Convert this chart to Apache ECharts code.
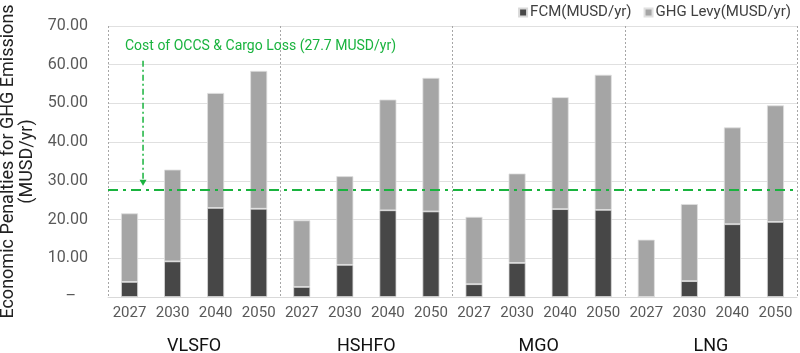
<!DOCTYPE html>
<html>
<head>
<meta charset="utf-8">
<script src="https://cdn.jsdelivr.net/npm/echarts@6/dist/echarts.min.js"></script>
<style>
html,body{margin:0;padding:0;background:#fff;}
#chart{width:800px;height:353px;}
</style>
</head>
<body>
<div id="chart"></div>
<script>
var fuels = ['VLSFO', 'HSHFO', 'MGO', 'LNG'];
var years = ['2027', '2030', '2040', '2050'];
// FCM per fuel/year (VLSFO, HSHFO, MGO, LNG)
var fcmData = [
    3.9, 9.2, 23.0, 22.8,
    2.6, 8.3, 22.4, 22.1,
    3.3, 8.8, 22.7, 22.5,
    0, 4.1, 18.8, 19.4
];
var levyData = [
    17.7, 23.7, 29.7, 35.6,
    17.2, 22.9, 28.6, 34.5,
    17.4, 23.1, 28.9, 34.9,
    14.8, 19.9, 25.0, 30.1
];
var occsCost = 27.7;
var yTicks = [0, 10, 20, 30, 40, 50, 60, 70];

var categories = [];
fuels.forEach(function(f) {
    years.forEach(function(y) { categories.push(y); });
});

var myChart = echarts.init(document.getElementById('chart'));
var green = '#19b33e';
var font = 'Roboto, "Noto Sans", sans-serif';

var option = {
    backgroundColor: '#fff',
    animation: false,
    textStyle: { fontFamily: font },
    legend: {
        top: 0,
        right: 4,
        itemWidth: 8,
        itemHeight: 8,
        itemGap: 12,
        icon: 'rect',
        textStyle: { color: '#404040', fontSize: 15, padding: [0, 0, 0, -2] },
        data: ['FCM(MUSD/yr)', 'GHG Levy(MUSD/yr)']
    },
    grid: { left: 108, right: 3, top: 26, bottom: 56, containLabel: false, outerBoundsMode: 'none' },
    xAxis: [{
        type: 'category',
        data: categories,
        axisLine: { lineStyle: { color: '#d9d9d9' } },
        axisTick: { show: false },
        axisLabel: { color: '#595959', fontSize: 15, margin: 9, interval: 0 }
    }, {
        type: 'category',
        position: 'bottom',
        data: fuels,
        axisLine: { show: false },
        axisTick: { show: false },
        axisLabel: { color: '#111', fontSize: 18, margin: 40 },
        splitLine: { show: true, interval: 0, lineStyle: { color: '#a6a6a6', type: [2, 2], width: 1 } }
    }],
    yAxis: {
        type: 'value',
        min: yTicks[0],
        max: yTicks[yTicks.length - 1],
        interval: 10,
        name: 'Economic Penalties for GHG Emissions\n(MUSD/yr)',
        nameLocation: 'middle',
        nameRotate: 90,
        nameGap: 58,
        nameTextStyle: { color: '#222', fontSize: 18, lineHeight: 19 },
        axisLine: { show: false },
        axisTick: { show: false },
        axisLabel: {
            color: '#595959', fontSize: 16, margin: 20,
            formatter: function(v) { return v === 0 ? '–   ' : v.toFixed(2); }
        },
        splitLine: { lineStyle: { color: '#e0e0e0', width: 1 } }
    },
    series: [{
        name: 'FCM(MUSD/yr)',
        type: 'bar',
        stack: 'total',
        barWidth: 17,
        itemStyle: { color: '#474747', borderColor: '#d9d9d9', borderWidth: 0.8 },
        data: fcmData
    }, {
        name: 'GHG Levy(MUSD/yr)',
        type: 'bar',
        stack: 'total',
        barWidth: 17,
        itemStyle: { color: '#a5a5a5', borderColor: '#e0e0e0', borderWidth: 0.8 },
        data: levyData,
        markLine: {
            symbol: 'none',
            silent: true,
            label: { show: false },
            lineStyle: { color: green, width: 2, type: [10, 5, 3, 5] },
            data: [{ yAxis: occsCost }]
        }
    }]
};
myChart.setOption(option);

// annotation arrow and label above the OCCS line
var p0 = myChart.convertToPixel({ xAxisIndex: 0, yAxisIndex: 0 }, [0, occsCost]);
var pTop = myChart.convertToPixel({ xAxisIndex: 0, yAxisIndex: 0 }, [0, 61]);
var ax = p0[0] + 13.5;
var tipY = p0[1] - 4;
myChart.setOption({
    graphic: [{
        type: 'line',
        shape: { x1: ax, y1: pTop[1], x2: ax, y2: tipY - 5 },
        style: { stroke: green, lineWidth: 1.5, lineDash: [6, 3, 2, 3] }
    }, {
        type: 'polygon',
        shape: { points: [[ax - 3.5, tipY - 6], [ax + 3.5, tipY - 6], [ax, tipY]] },
        style: { fill: green }
    }, {
        type: 'text',
        left: 125,
        top: 39,
        style: {
            text: 'Cost of OCCS & Cargo Loss (' + occsCost + ' MUSD/yr)',
            fill: green,
            fontSize: 14,
            fontFamily: font
        }
    }]
});
</script>
</body>
</html>
